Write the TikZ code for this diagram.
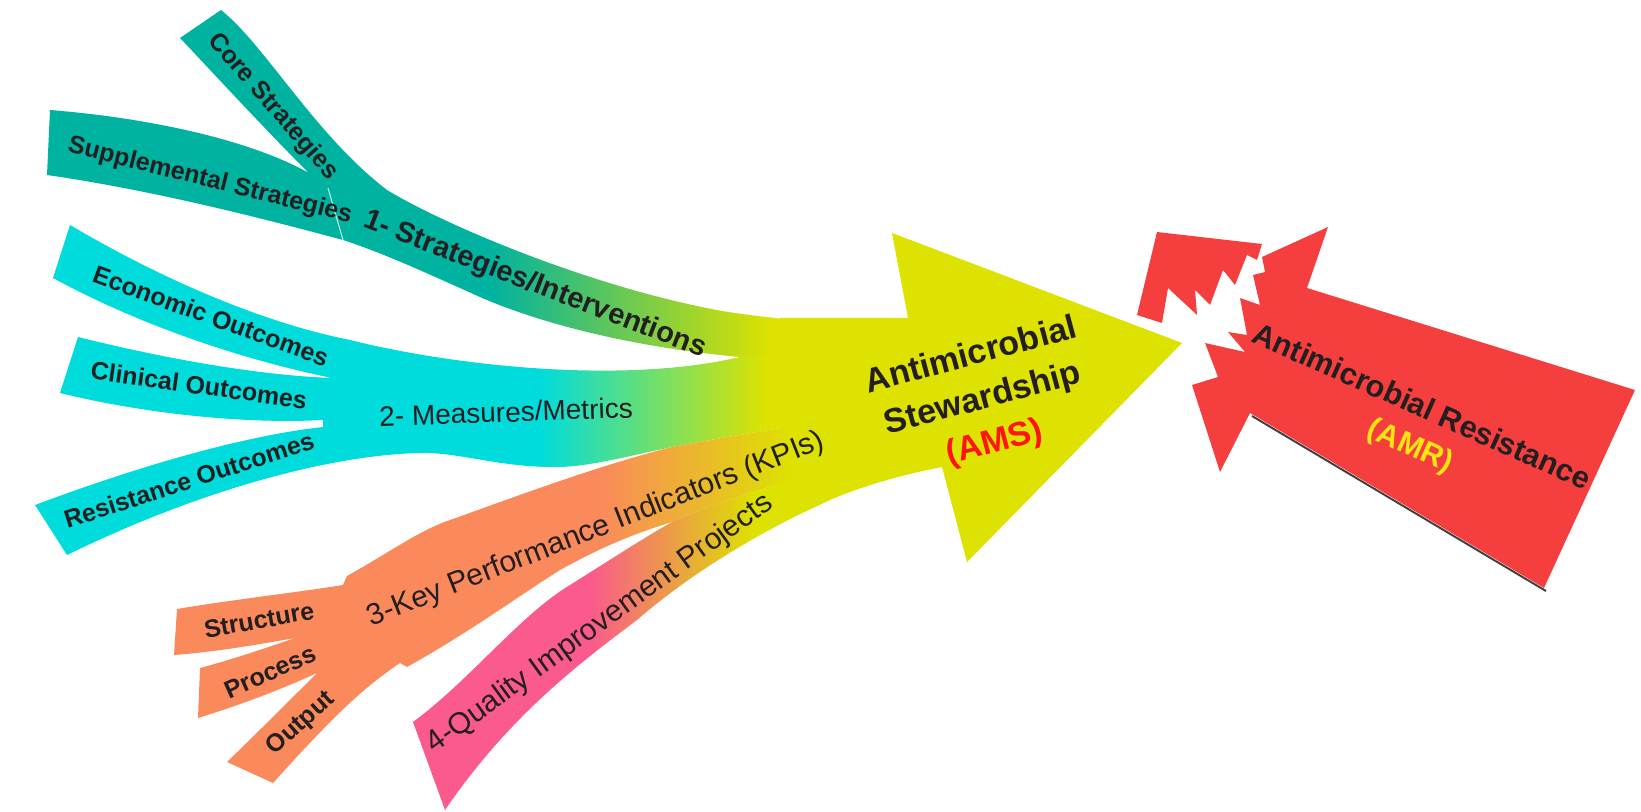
\documentclass[tikz,border=0pt]{standalone}
\usepackage{fontspec}
\setmainfont{Liberation Sans}

\definecolor{stratteal}{RGB}{0,178,160}
\definecolor{metcyan}{RGB}{0,220,220}
\definecolor{kpiorange}{RGB}{250,138,92}
\definecolor{qipink}{RGB}{250,90,140}
\definecolor{amsyellow}{RGB}{221,226,0}
\definecolor{amrred}{RGB}{245,62,62}
\definecolor{labelink}{RGB}{35,31,32}
\definecolor{amsred}{RGB}{255,20,20}
\definecolor{amryellow}{RGB}{255,228,20}

\tikzset{every picture/.style={line width=0.75pt}}
\tikzset{
  branchlabel/.style={font=\fontsize{12.5}{14}\selectfont\bfseries, text=labelink, inner sep=0pt},
  mainlabel/.style={font=\fontsize{14.5}{16}\selectfont\bfseries, text=labelink, inner sep=0pt},
  plainlabel/.style={font=\fontsize{15}{17}\selectfont, text=labelink, inner sep=0pt},
  biglabel/.style={font=\fontsize{17}{22.5}\selectfont\bfseries, text=labelink, align=center, inner sep=0pt}
}

% outlines of the four bands
\def\strategiespath{(180,38) -- (221,10) .. controls (265,45) and (315,135) .. (387,190) .. controls (450,228) and (600,290) .. (728,312) .. controls (770,318) and (800,321) .. (830,322) -- (830,362) .. controls (800,360) and (770,358) .. (740,357) .. controls (640,348) and (540,325) .. (471,293) .. controls (420,270) and (380,252) .. (343,240) .. controls (250,215) and (150,190) .. (47,175) -- (50,110) .. controls (150,118) and (250,140) .. (309,173) .. controls (275,140) and (215,75) .. (180,38) -- cycle}
\def\metricspath{(70,225) .. controls (160,278) and (260,322) .. (350,340) .. controls (450,365) and (620,385) .. (740,357) .. controls (780,353) and (810,352) .. (830,352) -- (830,420) .. controls (780,428) and (720,438) .. (672,447) .. controls (620,458) and (590,466) .. (560,467) .. controls (500,468) and (460,452) .. (420,453) .. controls (330,455) and (200,490) .. (67,555) -- (35,505) .. controls (150,462) and (250,435) .. (323,427) -- (323,420) .. controls (250,424) and (150,415) .. (60,393) -- (78,337) .. controls (150,355) and (250,375) .. (332,378) .. controls (230,357) and (130,320) .. (53,278) -- cycle}
\def\kpipath{(177,609) .. controls (230,600) and (300,592) .. (343,585) -- (347,576) .. controls (390,552) and (420,530) .. (450,520) .. controls (520,495) and (600,465) .. (672,447) .. controls (720,438) and (780,428) .. (830,420) -- (830,470) .. controls (770,485) and (710,505) .. (672,522) .. controls (630,535) and (600,548) .. (560,570) .. controls (520,595) and (470,632) .. (407,667) -- (400,663) .. controls (360,690) and (330,720) .. (273,783) -- (227,762) .. controls (260,730) and (290,700) .. (317,673) .. controls (280,690) and (240,705) .. (198,718) -- (200,668) .. controls (230,660) and (260,650) .. (295,638) .. controls (255,645) and (215,652) .. (174,655) -- cycle}
\def\qipath{(413,722) .. controls (470,680) and (520,615) .. (570,585) .. controls (610,560) and (645,537) .. (672,522) .. controls (710,505) and (770,485) .. (830,470) -- (830,500) .. controls (780,522) and (700,565) .. (637,620) .. controls (580,663) and (510,715) .. (445,810) -- cycle}

\begin{document}
\begin{tikzpicture}[x=0.5pt,y=-0.5pt]
\useasboundingbox (0,0) rectangle (1641,812);

%Shape: AMR arrow, broken tip
\fill[amrred] (1157,232) -- (1262,244) -- (1257,260) -- (1247,255) -- (1235,285) -- (1223,270) -- (1210,305) -- (1195,290) -- (1197,315) -- (1168,288) -- (1162,323) -- (1137,315) -- cycle;
%Shape: AMR arrow, body
\draw[black!75, line width=1pt] (1252,416) -- (1546,591);
\fill[amrred] (1328,227) -- (1307,288) -- (1635,390) -- (1544,588) -- (1250,413) -- (1220,472) -- (1192,385) -- (1218,377) -- (1205,343) -- (1245,352) -- (1228,332) -- (1247,335) -- (1240,298) -- (1260,305) -- (1253,275) -- (1265,272) -- (1262,257) -- cycle;

%Shape: AMS arrow
\fill[amsyellow] (780,318) -- (908,318) -- (892,233) -- (1182,343) -- (967,562) -- (942,467) .. controls (900,475) and (860,487) .. (830,500) -- (780,523) -- cycle;

%Shape: band 1
\begin{scope}
\clip \strategiespath;
\fill[stratteal] (0,0) rectangle (490,812);
\shade[left color=stratteal, right color=amsyellow] (490,0) rectangle (770,812);
\fill[amsyellow] (770,0) rectangle (900,812);
\end{scope}
\draw[white, line width=0.5pt, opacity=0.8] (328,188) -- (343,240);

%Shape: band 2
\begin{scope}
\clip \metricspath;
\fill[metcyan] (0,0) rectangle (540,812);
\shade[left color=metcyan, right color=amsyellow] (540,0) rectangle (765,812);
\fill[amsyellow] (765,0) rectangle (900,812);
\end{scope}

%Shape: band 3
\begin{scope}
\clip \kpipath;
\fill[kpiorange] (0,0) rectangle (600,812);
\shade[left color=kpiorange, right color=amsyellow] (600,0) rectangle (790,812);
\fill[amsyellow] (790,0) rectangle (900,812);
\end{scope}

%Shape: band 4
\begin{scope}
\clip \qipath;
\fill[qipink] (0,0) rectangle (590,812);
\shade[left color=qipink, middle color=kpiorange, right color=amsyellow] (590,0) rectangle (755,812);
\fill[amsyellow] (755,0) rectangle (900,812);
\end{scope}

% Text Node
\node[branchlabel, rotate=-49] (core) at (273,107) {Core Strategies};
% Text Node
\node[branchlabel, rotate=-14] (supplemental) at (210,181) {Supplemental Strategies};
% Text Node
\node[mainlabel, rotate=-21] (strategies) at (535,285) {1- Strategies/Interventions};
% Text Node
\node[branchlabel, rotate=-20] (economic) at (211,316) {Economic Outcomes};
% Text Node
\node[branchlabel, rotate=-8] (clinical) at (199,385) {Clinical Outcomes};
% Text Node
\node[branchlabel, rotate=18] (resistance) at (189,480) {Resistance Outcomes};
% Text Node
\node[font=\fontsize{14}{16}\selectfont, text=labelink, inner sep=0pt, rotate=2] (metrics) at (506,412) {2- Measures/Metrics};
% Text Node
\node[plainlabel, rotate=21.5] (kpi) at (596,530) {3-Key Performance Indicators (KPIs)};
% Text Node
\node[plainlabel, rotate=36] (quality) at (600,624) {4-Quality Improvement Projects};
% Text Node
\node[branchlabel, rotate=10] (structure) at (259,620) {Structure};
% Text Node
\node[branchlabel, rotate=24] (process) at (270,672) {Process};
% Text Node
\node[branchlabel, rotate=42] (output) at (301,724) {Output};
% Text Node
\node[biglabel, rotate=15] (ams) at (983,400) {Antimicrobial\\Stewardship\\\textcolor{amsred}{(AMS)}};
% Text Node
\node[font=\fontsize{15.3}{18}\selectfont\bfseries, text=labelink, inner sep=0pt, rotate=-24] (amr) at (1422,406) {Antimicrobial Resistance};
% Text Node
\node[font=\fontsize{15.3}{18}\selectfont\bfseries, text=amryellow, inner sep=0pt, rotate=-24] (amrabbr) at (1410,447) {(AMR)};

\end{tikzpicture}
\end{document}
